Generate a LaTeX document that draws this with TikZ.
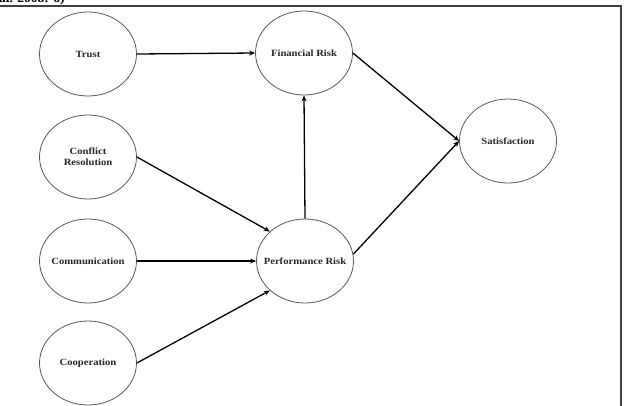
\documentclass[tikz,border=0pt]{standalone}
\usepackage{fontspec}
\setmainfont{Liberation Serif}
\usetikzlibrary{arrows.meta,shapes.geometric}
\tikzset{
  construct/.style={draw=black!65, line width=0.8pt, ellipse, minimum width=97pt, minimum height=84pt, inner sep=0pt, align=center, font=\fontsize{9.5}{11}\selectfont\bfseries, text=black!85},
  path/.style={draw=black, line width=1.3pt, -{Stealth[length=6pt,width=5pt]}},
  frame/.style={draw=black!75, line width=1.4pt}
}
\newcommand{\sx}[1]{\makebox[0pt]{\scalebox{1.12}[1]{#1}}}
\begin{document}
\begin{tikzpicture}[x=1pt,y=-1pt]
\useasboundingbox (0,0) rectangle (627,405);
\clip (0,0) rectangle (627,405);
\node[anchor=base west, font=\fontsize{12}{14}\selectfont\bfseries, inner sep=0pt] (cite) at (-1,2.5) {\scalebox{1.12}[1]{al. 2008: 6)}};
\draw[frame] (-5,6) -- (621,6) -- (621,410);
\node[construct] (trust) at (88,54) {\sx{Trust}};
\node[construct] (conf) at (88,157) {\sx{Conflict}\\\sx{Resolution}};
\node[construct] (comm) at (88,261) {\sx{Communication}};
\node[construct] (coop) at (88,363) {\sx{Cooperation}};
\node[construct] (fin) at (304,53) {\sx{Financial Risk}};
\node[construct] (perf) at (305,261) {\sx{Performance Risk}};
\node[construct] (sat) at (508,141) {\sx{Satisfaction}};
\draw[path] (trust.east) -- (fin.west);
\draw[path] (conf.east) -- (perf.140);
\draw[path] (comm.east) -- (perf.west);
\draw[path] (coop.east) -- (perf.220);
\draw[path] (perf.north) -- (fin.south);
\draw[path] (fin.east) -- (sat.west);
\draw[path] (perf.8) -- (sat.west);
\end{tikzpicture}
\end{document}
